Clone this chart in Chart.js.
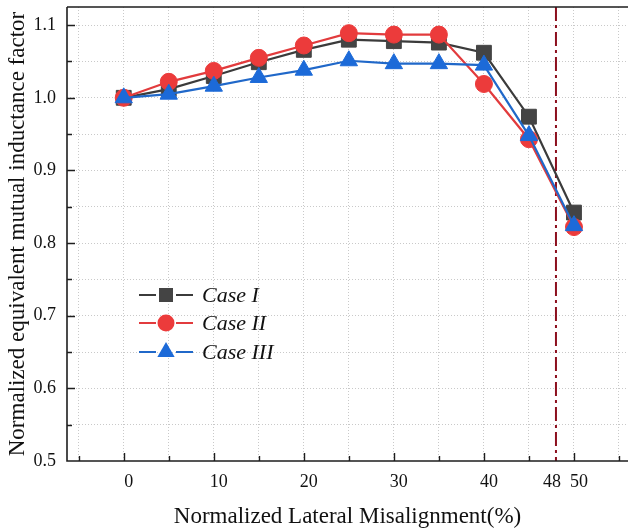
<!DOCTYPE html>
<html>
<head>
<meta charset="utf-8">
<script src="https://cdn.jsdelivr.net/npm/chart.js@4.4.0/dist/chart.umd.min.js"></script>
<style>
  html, body { margin: 0; padding: 0; background: #ffffff; }
  canvas { display: block; }
</style>
</head>
<body>
<canvas id="chart" width="628" height="529"></canvas>
<script>
// Normalized lateral misalignment (%) and the normalized mutual inductance factor per case
const misalignment = [0, 5, 10, 15, 20, 25, 30, 35, 40, 45, 50];
const caseI   = [1.000, 1.012, 1.030, 1.049, 1.066, 1.080, 1.078, 1.076, 1.062, 0.974, 0.842];
const caseII  = [1.000, 1.022, 1.037, 1.055, 1.072, 1.089, 1.087, 1.087, 1.019, 0.943, 0.822];
const caseIII = [1.000, 1.005, 1.016, 1.028, 1.038, 1.051, 1.047, 1.047, 1.045, 0.948, 0.824];

// Axis ticks
const xTickLabels = [0, 10, 20, 30, 40, 48, 50];
const xMajorTicks = [0, 10, 20, 30, 40, 50];
const xMinorTicks = [-5, 5, 15, 25, 35, 45, 55];
const yMajorTicks = [0.6, 0.7, 0.8, 0.9, 1.0, 1.1];
const yMinorTicks = [0.55, 0.65, 0.75, 0.85, 0.95, 1.05];
const xGridValues = [-5, 0, 5, 10, 15, 20, 25, 30, 35, 40, 45, 50, 55];
const yGridValues = [0.55, 0.6, 0.65, 0.7, 0.75, 0.8, 0.85, 0.9, 0.95, 1.0, 1.05, 1.1];
const yTickLabels = [0.5, 0.6, 0.7, 0.8, 0.9, 1.0, 1.1];

// Misalignment limit marker
const limitValue = 48;

const seriesNames = ['Case I', 'Case II', 'Case III'];
const SERIF = '"Liberation Serif", "Times New Roman", serif';

const styles = [
  { line: '#3b3b3b', fill: '#444444', shape: 'rect', r: 10.5 },
  { line: '#e23b3d', fill: '#ec3b3b', shape: 'circle', r: 8.5 },
  { line: '#2068c9', fill: '#1c6ad8', shape: 'triangle', r: 10 }
];

function toPoints(values) {
  return misalignment.map((m, i) => ({ x: m, y: values[i] }));
}

function makeDataset(name, values, st, order) {
  return {
    label: name,
    data: toPoints(values),
    borderColor: st.line,
    borderWidth: 2.2,
    backgroundColor: st.fill,
    pointBackgroundColor: st.fill,
    pointBorderColor: st.fill,
    pointBorderWidth: 1,
    pointStyle: st.shape,
    pointRadius: st.r,
    tension: 0,
    order: order
  };
}

function near(v, list) {
  return list.some(t => Math.abs(t - v) < 1e-6);
}

function xLabel(v) {
  if (!near(v, xTickLabels)) return '';
  // the limit label sits just left of its line, clear of "50"
  if (Math.abs(v - limitValue) < 1e-6) return String(v) + '    ';
  return String(v);
}

// Dash-dot vertical line at the misalignment limit
const limitLine = {
  id: 'limitLine',
  beforeDatasetsDraw(chart) {
    const { ctx, chartArea: a, scales: { x } } = chart;
    const px = x.getPixelForValue(limitValue);
    ctx.save();
    ctx.strokeStyle = '#8c0f1e';
    ctx.lineWidth = 2;
    ctx.setLineDash([14, 4, 3, 4]);
    ctx.beginPath();
    ctx.moveTo(px, a.top);
    ctx.lineTo(px, a.bottom);
    ctx.stroke();
    ctx.restore();
  }
};

// Plot frame with inward tick marks
const frameTicks = {
  id: 'frameTicks',
  afterDatasetsDraw(chart) {
    const { ctx, chartArea: a, scales: { x, y } } = chart;
    ctx.save();
    ctx.strokeStyle = '#1e1e1e';
    ctx.lineWidth = 1.6;
    ctx.beginPath();
    ctx.moveTo(a.left, a.top); ctx.lineTo(a.right, a.top);
    ctx.moveTo(a.left, a.top); ctx.lineTo(a.left, a.bottom);
    ctx.moveTo(a.left - 0.8, a.bottom); ctx.lineTo(a.right, a.bottom);
    ctx.stroke();

    ctx.lineWidth = 1.4;
    ctx.beginPath();
    xMajorTicks.forEach(v => {
      const px = Math.round(x.getPixelForValue(v)) + 0.5;
      ctx.moveTo(px, a.bottom); ctx.lineTo(px, a.bottom - 8);
    });
    xMinorTicks.forEach(v => {
      const px = Math.round(x.getPixelForValue(v)) + 0.5;
      ctx.moveTo(px, a.bottom); ctx.lineTo(px, a.bottom - 5);
    });
    yMajorTicks.forEach(v => {
      const py = Math.round(y.getPixelForValue(v)) + 0.5;
      ctx.moveTo(a.left, py); ctx.lineTo(a.left + 8, py);
    });
    yMinorTicks.forEach(v => {
      const py = Math.round(y.getPixelForValue(v)) + 0.5;
      ctx.moveTo(a.left, py); ctx.lineTo(a.left + 5, py);
    });
    ctx.stroke();
    ctx.restore();
  }
};

// Legend inside the plot area
const innerLegend = {
  id: 'innerLegend',
  afterDraw(chart) {
    const { ctx } = chart;
    const x0 = 139, x1 = 193, cx = 166, tx = 202;
    const rows = [295, 323, 352];
    ctx.save();
    seriesNames.forEach((name, i) => {
      const st = styles[i];
      const cy = rows[i];
      ctx.strokeStyle = st.line;
      ctx.lineWidth = 2.2;
      ctx.beginPath();
      ctx.moveTo(x0, cy); ctx.lineTo(cx - 10, cy);
      ctx.moveTo(cx + 10, cy); ctx.lineTo(x1, cy);
      ctx.stroke();
      ctx.fillStyle = st.fill;
      ctx.beginPath();
      if (st.shape === 'rect') {
        ctx.rect(cx - 7, cy - 7, 14, 14);
      } else if (st.shape === 'circle') {
        ctx.arc(cx, cy, 8.5, 0, Math.PI * 2);
      } else {
        const r = 10;
        ctx.moveTo(cx, cy - r);
        ctx.lineTo(cx + r * Math.sin(Math.PI / 3), cy + r / 2);
        ctx.lineTo(cx - r * Math.sin(Math.PI / 3), cy + r / 2);
        ctx.closePath();
      }
      ctx.fill();
      ctx.fillStyle = '#111111';
      ctx.font = 'italic 22px ' + SERIF;
      ctx.textBaseline = 'middle';
      ctx.textAlign = 'left';
      ctx.fillText(name, tx, cy + 1);
    });
    ctx.restore();
  }
};

const gridColor = '#c9c9c9';

new Chart(document.getElementById('chart'), {
  type: 'line',
  data: {
    datasets: [
      makeDataset(seriesNames[0], caseI, styles[0], 3),
      makeDataset(seriesNames[1], caseII, styles[1], 2),
      makeDataset(seriesNames[2], caseIII, styles[2], 1)
    ]
  },
  options: {
    responsive: false,
    animation: false,
    events: [],
    layout: { autoPadding: false, padding: { top: 7, right: 0, left: 0, bottom: 0 } },
    plugins: { legend: { display: false }, tooltip: { enabled: false } },
    scales: {
      x: {
        type: 'linear',
        min: -6.3,
        max: 56,
        afterBuildTicks(scale) {
          scale.ticks = xGridValues.concat([limitValue])
            .sort((a, b) => a - b)
            .map(v => ({ value: v }));
        },
        afterFit(scale) {
          scale.height = 68;
          scale.paddingLeft = 0;
          scale.paddingRight = 0;
        },
        grid: {
          drawTicks: false,
          color: ctx => near(ctx.tick.value, xGridValues) ? gridColor : 'rgba(0,0,0,0)',
          lineWidth: 1
        },
        border: { display: false, dash: [1, 2] },
        ticks: {
          autoSkip: false,
          maxRotation: 0,
          padding: 10,
          labelOffset: 5,
          color: '#111111',
          font: { family: SERIF, size: 18 },
          callback: v => xLabel(v)
        },
        title: {
          display: true,
          text: 'Normalized Lateral Misalignment(%)',
          color: '#111111',
          font: { family: SERIF, size: 23 },
          padding: { top: 0, bottom: -2 }
        }
      },
      y: {
        type: 'linear',
        min: 0.5,
        max: 1.125,
        afterBuildTicks(scale) {
          scale.ticks = [0.5].concat(yGridValues).map(v => ({ value: v }));
        },
        afterFit(scale) {
          scale.width = 67;
          scale.paddingTop = 0;
          scale.paddingBottom = 0;
        },
        grid: {
          drawTicks: false,
          color: ctx => near(ctx.tick.value, yGridValues) ? gridColor : 'rgba(0,0,0,0)',
          lineWidth: 1
        },
        border: { display: false, dash: [1, 2] },
        ticks: {
          autoSkip: false,
          padding: 11,
          color: '#111111',
          font: { family: SERIF, size: 18 },
          callback: v => near(v, yTickLabels) ? v.toFixed(1) : ''
        },
        title: {
          display: true,
          text: 'Normalized equivalent mutual inductance factor',
          color: '#111111',
          font: { family: SERIF, size: 23 },
          padding: { top: 4, bottom: 0 }
        }
      }
    }
  },
  plugins: [limitLine, frameTicks, innerLegend]
});
</script>
</body>
</html>
